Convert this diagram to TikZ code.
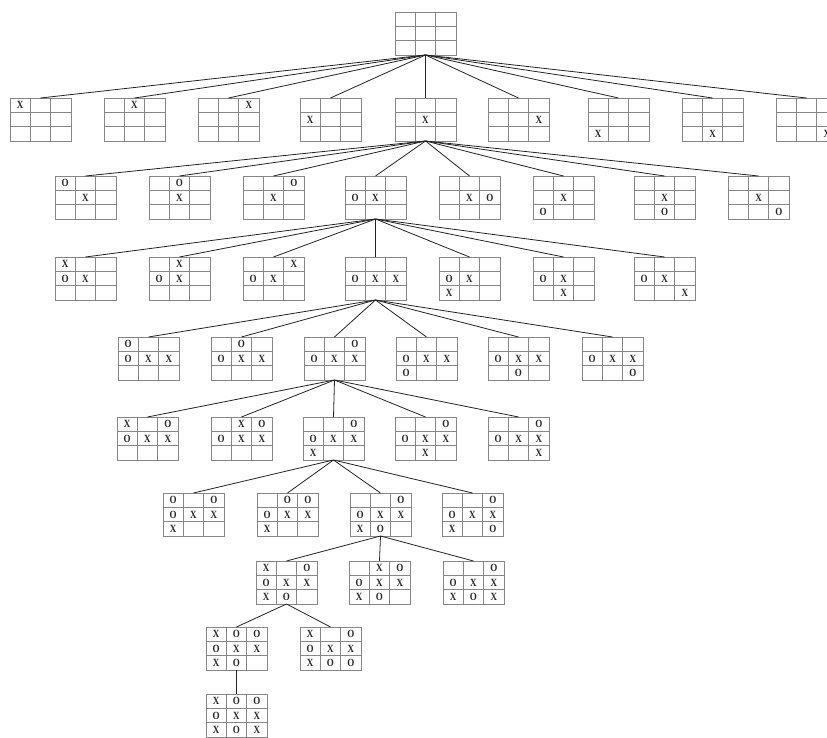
\documentclass[tikz,border=0pt]{standalone}
\usepackage{fontspec}
\setmainfont{Liberation Serif}
\newfontfamily\piecefont[FakeStretch=0.82]{Liberation Serif}
\usetikzlibrary{positioning}
\definecolor{gridGray}{RGB}{135,135,135}
\definecolor{edgeInk}{RGB}{35,35,35}
\tikzset{
  board/.style={draw=gridGray,line width=0.8pt,anchor=north west,inner sep=0pt,outer sep=0pt,minimum width=61pt,minimum height=43pt},
  board line/.style={draw=gridGray,line width=0.8pt},
  piece/.style={inner sep=0pt,font=\piecefont\bfseries\fontsize{11}{11}\selectfont,text=black!85},
  tree edge/.style={draw=edgeInk,line width=0.8pt}
}
% one 3x3 board: name, left, top, nine cells row by row
\newcommand{\tttboard}[4]{%
  \node[board] (#1) at (#2,#3) {};
  \begin{scope}[shift={(#2,#3)}]
    \draw[board line] (20.33,0) -- (20.33,43) (40.67,0) -- (40.67,43) (0,14.33) -- (61,14.33) (0,28.67) -- (61,28.67);
    \foreach \v [count=\k from 0] in {#4} {
      \pgfmathtruncatemacro{\rr}{div(\k,3)}
      \pgfmathtruncatemacro{\cc}{mod(\k,3)}
      \node[piece] (#1-\k) at ({10.17+20.33*\cc},{7.17+14.33*\rr}) {\v};
    }
  \end{scope}
}

\begin{document}
\begin{tikzpicture}[x=1pt,y=-1pt]
  \clip (0,0) rectangle (827,738);
  % root
  \tttboard{root}{395}{12}{,,,,,,,,}
  % first move
  \tttboard{a1}{10}{98}{X,,,,,,,,}
  \tttboard{a2}{104}{98}{,X,,,,,,,}
  \tttboard{a3}{198}{98}{,,X,,,,,,}
  \tttboard{a4}{300}{98}{,,,X,,,,,}
  \tttboard{a5}{395}{98}{,,,,X,,,,}
  \tttboard{a6}{488}{98}{,,,,,X,,,}
  \tttboard{a7}{588}{98}{,,,,,,X,,}
  \tttboard{a8}{682}{98}{,,,,,,,X,}
  \tttboard{a9}{776}{98}{,,,,,,,,X}
  % second move
  \tttboard{b1}{55}{176}{O,,,,X,,,,}
  \tttboard{b2}{149}{176}{,O,,,X,,,,}
  \tttboard{b3}{243}{176}{,,O,,X,,,,}
  \tttboard{b4}{345}{176}{,,,O,X,,,,}
  \tttboard{b5}{439}{176}{,,,,X,O,,,}
  \tttboard{b6}{533}{176}{,,,,X,,O,,}
  \tttboard{b7}{634}{176}{,,,,X,,,O,}
  \tttboard{b8}{728}{176}{,,,,X,,,,O}
  % third move
  \tttboard{c1}{55}{257}{X,,,O,X,,,,}
  \tttboard{c2}{149}{257}{,X,,O,X,,,,}
  \tttboard{c3}{243}{257}{,,X,O,X,,,,}
  \tttboard{c4}{345}{257}{,,,O,X,X,,,}
  \tttboard{c5}{439}{257}{,,,O,X,,X,,}
  \tttboard{c6}{533}{257}{,,,O,X,,,X,}
  \tttboard{c7}{634}{257}{,,,O,X,,,,X}
  % fourth move
  \tttboard{d1}{118}{337}{O,,,O,X,X,,,}
  \tttboard{d2}{211}{337}{,O,,O,X,X,,,}
  \tttboard{d3}{304}{337}{,,O,O,X,X,,,}
  \tttboard{d4}{396}{337}{,,,O,X,X,O,,}
  \tttboard{d5}{488}{337}{,,,O,X,X,,O,}
  \tttboard{d6}{582}{337}{,,,O,X,X,,,O}
  % fifth move
  \tttboard{e1}{117}{417}{X,,O,O,X,X,,,}
  \tttboard{e2}{211}{417}{,X,O,O,X,X,,,}
  \tttboard{e3}{303}{417}{,,O,O,X,X,X,,}
  \tttboard{e4}{395}{417}{,,O,O,X,X,,X,}
  \tttboard{e5}{488}{417}{,,O,O,X,X,,,X}
  % sixth move
  \tttboard{f1}{163}{493}{O,,O,O,X,X,X,,}
  \tttboard{f2}{257}{493}{,O,O,O,X,X,X,,}
  \tttboard{f3}{350}{493}{,,O,O,X,X,X,O,}
  \tttboard{f4}{442}{493}{,,O,O,X,X,X,,O}
  % seventh move
  \tttboard{g1}{256}{561}{X,,O,O,X,X,X,O,}
  \tttboard{g2}{349}{561}{,X,O,O,X,X,X,O,}
  \tttboard{g3}{443}{561}{,,O,O,X,X,X,O,X}
  % eighth move
  \tttboard{h1}{206}{627}{X,O,O,O,X,X,X,O,}
  \tttboard{h2}{300}{627}{X,,O,O,X,X,X,O,O}
  % last move
  \tttboard{i1}{206}{694}{X,O,O,O,X,X,X,O,X}
  % edges
  \foreach \k in {1,...,9} \draw[tree edge] (root.south) -- (a\k.north);
  \foreach \k in {1,...,8} \draw[tree edge] (a5.south) -- (b\k.north);
  \foreach \k in {1,...,7} \draw[tree edge] (b4.south) -- (c\k.north);
  \foreach \k in {1,...,6} \draw[tree edge] (c4.south) -- (d\k.north);
  \foreach \k in {1,...,5} \draw[tree edge] (d3.south) -- (e\k.north);
  \foreach \k in {1,...,4} \draw[tree edge] (e3.south) -- (f\k.north);
  \foreach \k in {1,...,3} \draw[tree edge] (f3.south) -- (g\k.north);
  \foreach \k in {1,2} \draw[tree edge] (g1.south) -- (h\k.north);
  \draw[tree edge] (h1.south) -- (i1.north);
\end{tikzpicture}
\end{document}
